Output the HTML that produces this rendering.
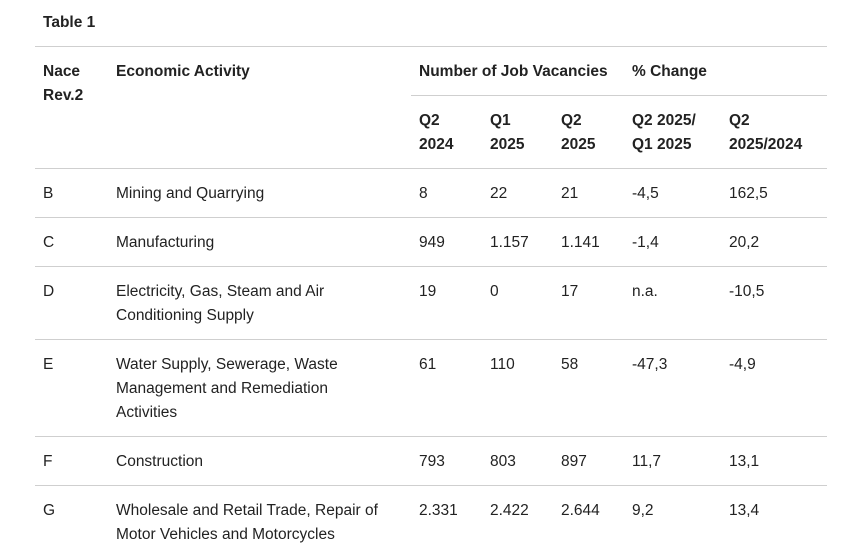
<!DOCTYPE html>
<html><head><meta charset="utf-8"><style>
body{margin:0;width:863px;height:552px;background:#fff;overflow:hidden;font-family:"Liberation Sans",Arial,sans-serif;color:#222;font-size:15.5px;position:relative}
.t{position:absolute;line-height:24px;white-space:nowrap}
.b{font-weight:bold}
.l{position:absolute;height:1px;background:#cfcfcf}
</style></head><body>
<div class="t b" style="left:43px;top:11px">Table 1</div>
<div class="l" style="left:35px;width:792px;top:46px"></div>
<div class="t b" style="left:43px;top:60px">Nace<br>Rev.2</div>
<div class="t b" style="left:116px;top:60px">Economic Activity</div>
<div class="t b" style="left:419px;top:60px">Number of Job Vacancies</div>
<div class="t b" style="left:632px;top:60px">% Change</div>
<div class="l" style="left:411px;width:416px;top:95px"></div>
<div class="t b" style="left:419px;top:109px">Q2<br>2024</div>
<div class="t b" style="left:490px;top:109px">Q1<br>2025</div>
<div class="t b" style="left:561px;top:109px">Q2<br>2025</div>
<div class="t b" style="left:632px;top:109px">Q2 2025/<br>Q1 2025</div>
<div class="t b" style="left:729px;top:109px">Q2<br>2025/2024</div>
<div class="l" style="left:35px;width:792px;top:168px"></div>
<script>
const codes=["B","C","D","E","F","G"];
const acts=[["Mining and Quarrying"],["Manufacturing"],["Electricity, Gas, Steam and Air","Conditioning Supply"],["Water Supply, Sewerage, Waste","Management and Remediation","Activities"],["Construction"],["Wholesale and Retail Trade, Repair of","Motor Vehicles and Motorcycles"]];
const q2_2024=["8","949","19","61","793","2.331"];
const q1_2025=["22","1.157","0","110","803","2.422"];
const q2_2025=["21","1.141","17","58","897","2.644"];
const chgQ=["-4,5","-1,4","n.a.","-47,3","11,7","9,2"];
const chgY=["162,5","20,2","-10,5","-4,9","13,1","13,4"];
let y=169;
const cols=[43,116,419,490,561,632,729];
codes.forEach((c,i)=>{
  const vals=[c,acts[i].join("<br>"),q2_2024[i],q1_2025[i],q2_2025[i],chgQ[i],chgY[i]];
  const names=["code","activity","q2-2024","q1-2025","q2-2025","change-qoq","change-yoy"];
  vals.forEach((v,j)=>{
    const d=document.createElement("div");
    d.className="t";
    d.style.left=cols[j]+"px";d.style.top=(y+13)+"px";
    d.innerHTML=v;
    
    
    document.body.appendChild(d);
  });
  y+=24*acts[i].length+25;
  if(i<codes.length-1){
    const l=document.createElement("div");
    l.className="l";l.style.left="35px";l.style.width="792px";l.style.top=(y-1)+"px";
    
    
    document.body.appendChild(l);
  }
});
</script>
</body></html>
